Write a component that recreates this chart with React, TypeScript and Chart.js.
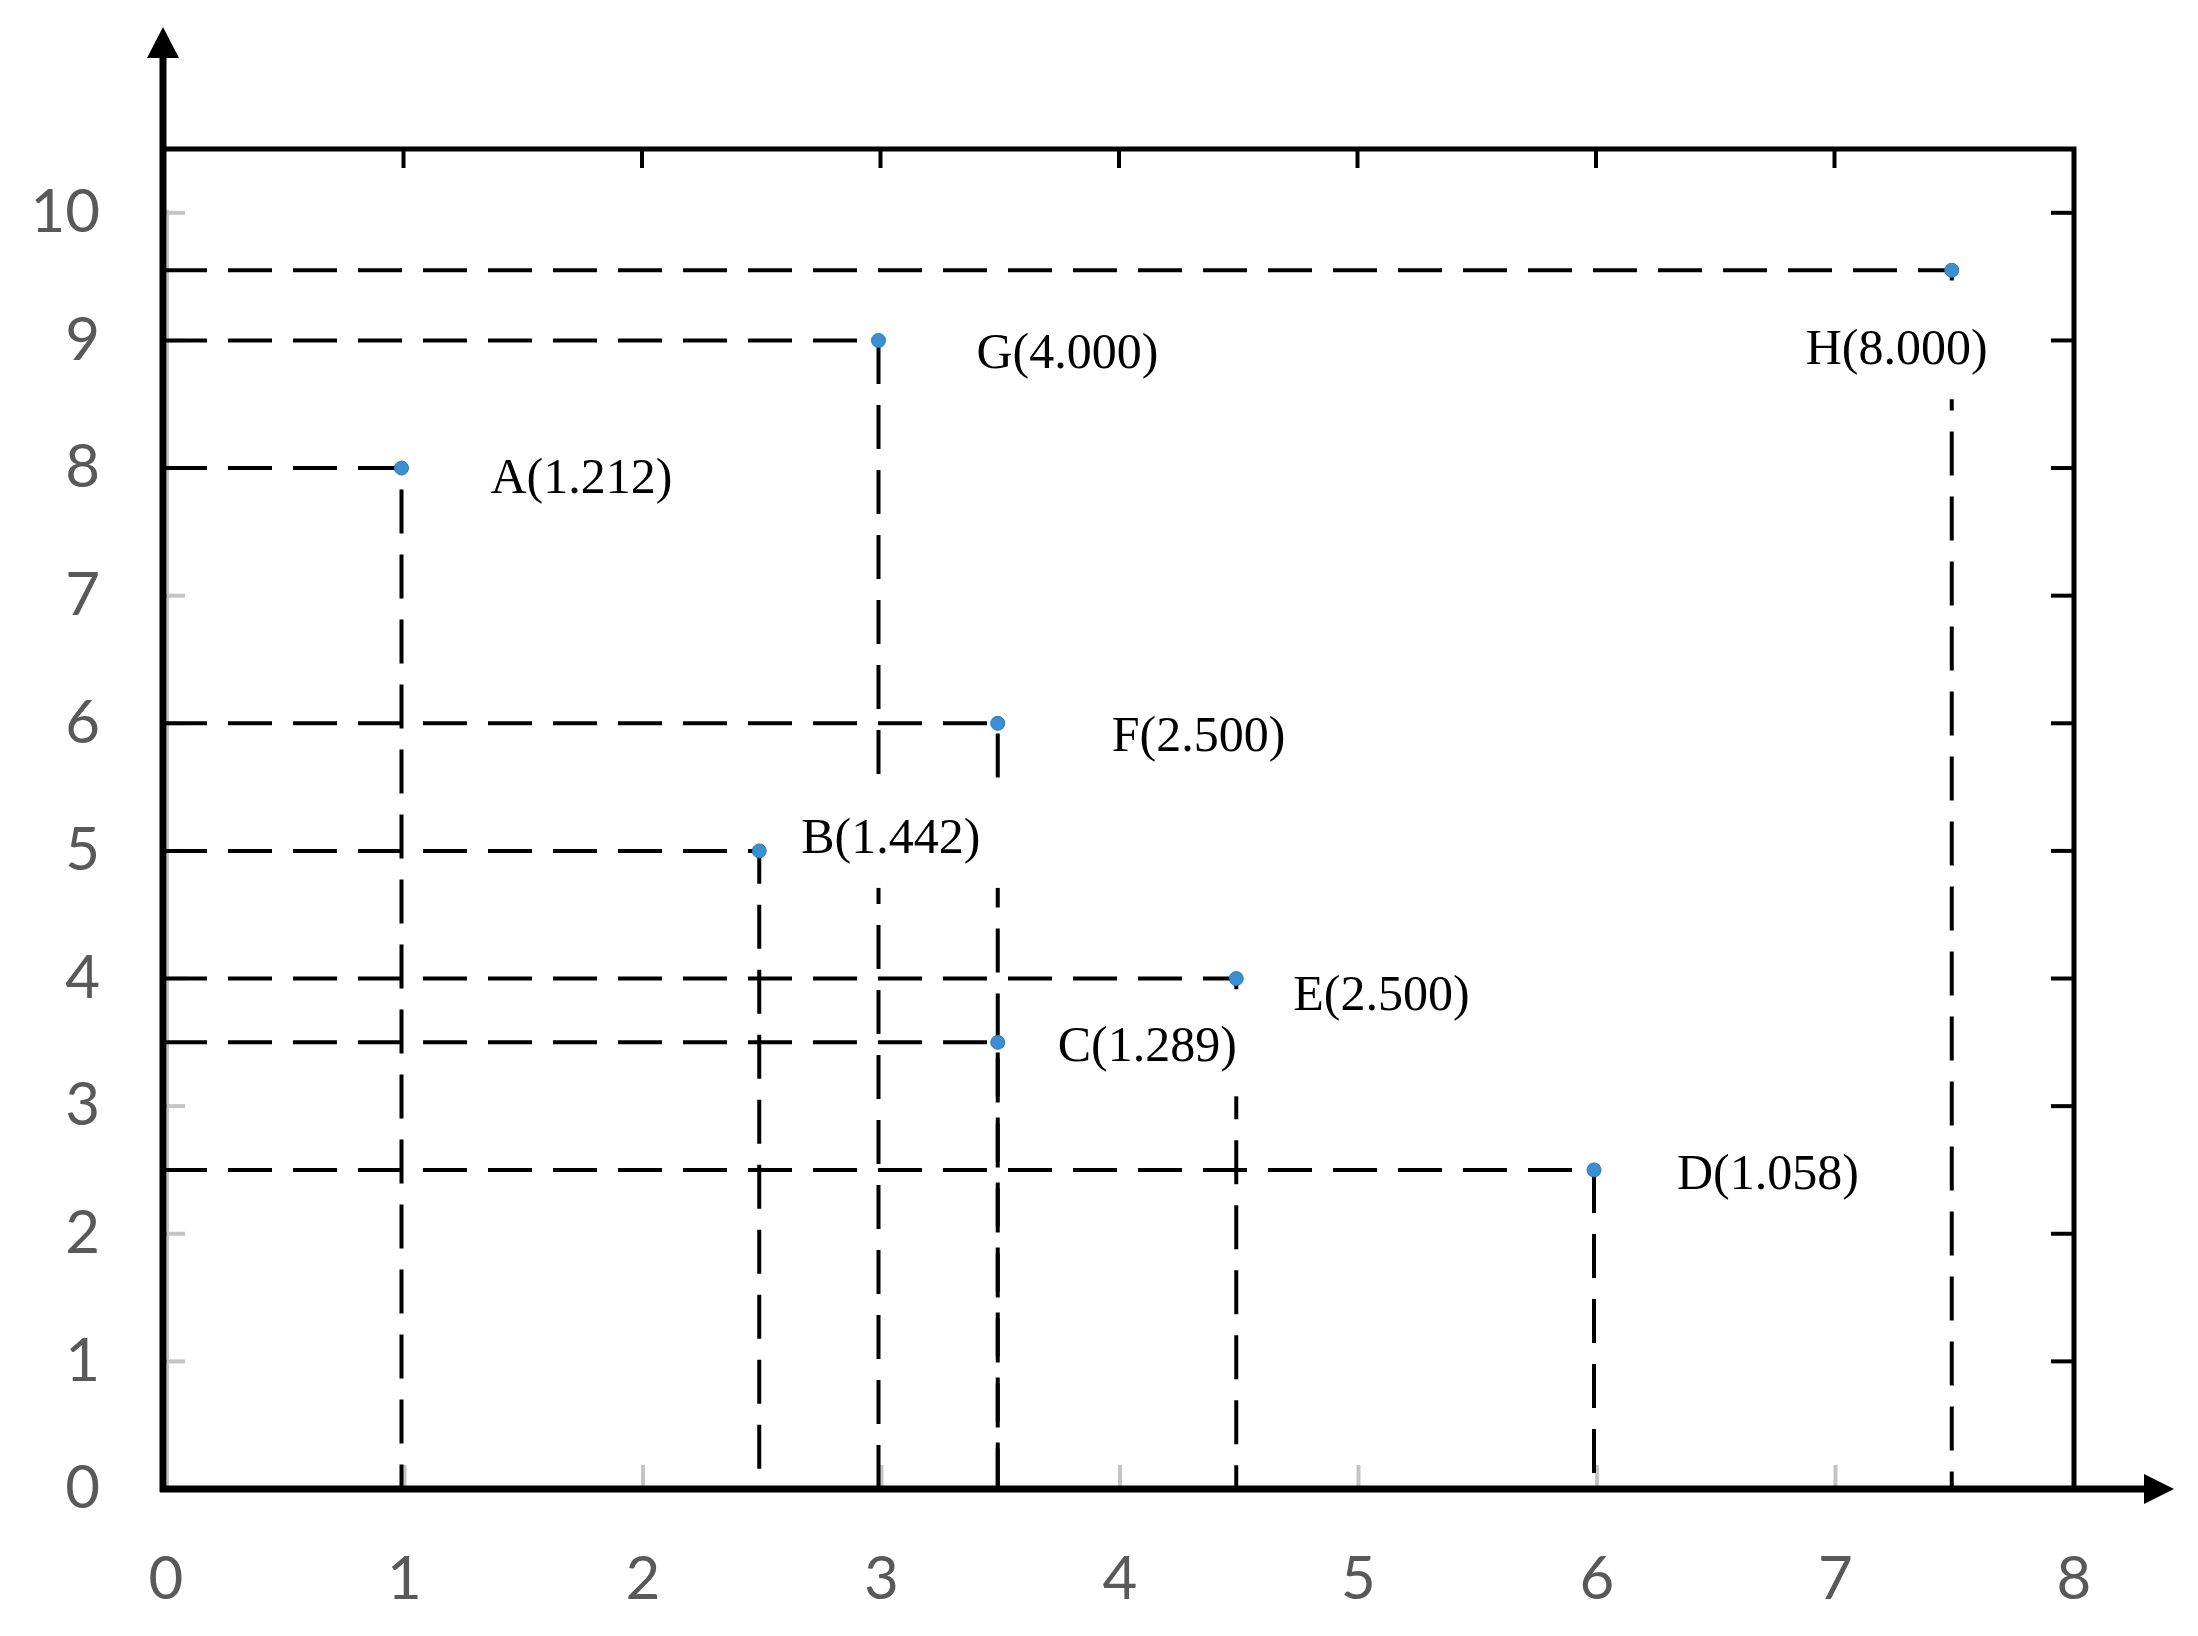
import React, { useEffect, useRef } from 'react';
import { Chart, registerables } from 'chart.js';

Chart.register(...registerables);

// ---- data ----
const pointNames = ['A', 'B', 'C', 'D', 'E', 'F', 'G', 'H'];
const xValues = [1, 2.5, 3.5, 6, 4.5, 3.5, 3, 7.5];
const yValues = [8, 5, 3.5, 2.5, 4, 6, 9, 9.55];
const scores = [1.212, 1.442, 1.289, 1.058, 2.5, 2.5, 4.0, 8.0];
const xTickValues = [0, 1, 2, 3, 4, 5, 6, 7, 8];
const yTickValues = [0, 1, 2, 3, 4, 5, 6, 7, 8, 9, 10];
// label placement (pixel offset of text-left / cap-middle from the point)
const labelOffsets = [
  [89, 8], [42, -15], [60, 2], [83, 2], [57, 14], [114, 11], [98, 11], [-146, 77],
];

const W = 2198;
const H = 1636;

const decorPlugin = {
  id: 'decor',
  beforeDatasetsDraw(chart: any) {
    const { ctx, chartArea, scales } = chart;
    const xs = scales.x;
    const ys = scales.y;
    ctx.save();
    ctx.strokeStyle = '#c4c4c4';
    ctx.lineWidth = 4;
    // light grey original axis line
    ctx.beginPath();
    ctx.lineWidth = 2;
    ctx.moveTo(chartArea.left + 5, ys.getPixelForValue(10) - 3);
    ctx.lineTo(chartArea.left + 5, chartArea.bottom);
    ctx.stroke();
    ctx.lineWidth = 4;
    // grey inner ticks on left axis
    yTickValues.forEach((v) => {
      if (v === 0) return;
      const py = ys.getPixelForValue(v);
      ctx.beginPath();
      ctx.moveTo(chartArea.left + 3, py);
      ctx.lineTo(chartArea.left + 22, py);
      ctx.stroke();
    });
    // grey inner ticks on bottom axis
    xTickValues.forEach((v) => {
      if (v === 0) return;
      const px = xs.getPixelForValue(v) + 3;
      ctx.beginPath();
      ctx.moveTo(px, chartArea.bottom - 3);
      ctx.lineTo(px, chartArea.bottom - 24);
      ctx.stroke();
    });
    ctx.restore();
  },
  afterDatasetsDraw(chart: any) {
    const { ctx, scales } = chart;
    const xs = scales.x;
    const ys = scales.y;
    ctx.save();
    ctx.font = '50px "Liberation Serif", "Times New Roman", serif';
    ctx.textBaseline = 'alphabetic';
    ctx.textAlign = 'left';
    pointNames.forEach((name, i) => {
      const text = `${name}(${scores[i].toFixed(3)})`;
      const px = xs.getPixelForValue(xValues[i]);
      const py = ys.getPixelForValue(yValues[i]);
      const left = px + labelOffsets[i][0];
      const mid = py + labelOffsets[i][1];
      const w = ctx.measureText(text).width;
      ctx.fillStyle = '#ffffff';
      ctx.fillRect(left - 16, mid - 52, w + 38, 104);
      ctx.fillStyle = '#000000';
      ctx.fillText(text, left, mid + 17);
    });
    ctx.restore();
  },
  afterDraw(chart: any) {
    const { ctx, chartArea, scales } = chart;
    const xs = scales.x;
    const ys = scales.y;
    const ax = chartArea.left;
    const ay = chartArea.bottom;
    const frameR = chartArea.right + 3;
    const frameT = chartArea.top;
    ctx.save();
    ctx.strokeStyle = '#000';
    ctx.fillStyle = '#000';
    // frame (top & right)
    ctx.lineWidth = 5;
    ctx.beginPath();
    ctx.moveTo(ax, frameT);
    ctx.lineTo(frameR, frameT);
    ctx.lineTo(frameR, ay);
    ctx.stroke();
    // black inner ticks on frame
    ctx.lineWidth = 4;
    xTickValues.forEach((v) => {
      if (v === 0 || v === 8) return;
      const px = xs.getPixelForValue(v) + 2;
      ctx.beginPath();
      ctx.moveTo(px, frameT);
      ctx.lineTo(px, frameT + 19);
      ctx.stroke();
    });
    yTickValues.forEach((v) => {
      if (v === 0) return;
      const py = ys.getPixelForValue(v);
      ctx.beginPath();
      ctx.moveTo(frameR, py);
      ctx.lineTo(frameR - 23, py);
      ctx.stroke();
    });
    // axes
    ctx.lineWidth = 7;
    ctx.beginPath();
    ctx.moveTo(ax, ay + 3);
    ctx.lineTo(ax, 50);
    ctx.stroke();
    ctx.beginPath();
    ctx.moveTo(ax - 3, ay);
    ctx.lineTo(2150, ay);
    ctx.stroke();
    // arrow heads
    ctx.beginPath();
    ctx.moveTo(ax, 27);
    ctx.lineTo(ax - 16, 58);
    ctx.lineTo(ax + 16, 58);
    ctx.closePath();
    ctx.fill();
    ctx.beginPath();
    ctx.moveTo(2174, ay);
    ctx.lineTo(2144, ay - 15);
    ctx.lineTo(2144, ay + 15);
    ctx.closePath();
    ctx.fill();
    // tick labels
    ctx.fillStyle = '#595959';
    ctx.font = '60px Lato, "Liberation Sans", sans-serif';
    ctx.textBaseline = 'middle';
    ctx.textAlign = 'right';
    yTickValues.forEach((v) => {
      ctx.fillText(String(v), 100, ys.getPixelForValue(v));
    });
    ctx.textAlign = 'center';
    xTickValues.forEach((v) => {
      ctx.fillText(String(v), xs.getPixelForValue(v) + 3, 1580);
    });
    ctx.restore();
  },
};

export default function App() {
  const canvasRef = useRef<HTMLCanvasElement | null>(null);

  useEffect(() => {
    const canvas = canvasRef.current;
    if (!canvas) return;
    const guideSets = pointNames.map((name, i) => ({
      label: `guide-${name}`,
      data: [
        { x: 0, y: yValues[i] },
        { x: xValues[i], y: yValues[i] },
        { x: xValues[i], y: 0 },
      ],
      showLine: true,
      borderColor: '#000000',
      borderWidth: 4,
      borderDash: [44, 21],
      borderCapStyle: 'butt',
      pointRadius: 0,
      pointHoverRadius: 0,
      fill: false,
      tension: 0,
      order: 1,
    }));
    const chart = new Chart(canvas, {
      type: 'scatter',
      data: {
        datasets: [
          {
            label: 'points',
            data: xValues.map((x, i) => ({ x, y: yValues[i] })),
            backgroundColor: '#3a8fd2',
            borderColor: '#2f78b8',
            borderWidth: 1,
            pointRadius: 7,
            order: 0,
          },
          ...guideSets,
        ] as any,
      },
      options: {
        animation: false,
        responsive: false,
        devicePixelRatio: 1,
        layout: { padding: { left: 163, top: 149, right: 127, bottom: 147 } },
        plugins: { legend: { display: false }, tooltip: { enabled: false } },
        scales: {
          x: { type: 'linear', min: 0, max: 8, display: false },
          y: { type: 'linear', min: 0, max: 10.5, display: false },
        },
      } as any,
      plugins: [decorPlugin],
    });
    return () => chart.destroy();
  }, []);

  return (
    <div style={{ position: 'fixed', left: 0, top: 0, width: W, height: H, background: '#ffffff' }}>
      <canvas ref={canvasRef} width={W} height={H} style={{ display: 'block', width: W, height: H }} />
    </div>
  );
}
